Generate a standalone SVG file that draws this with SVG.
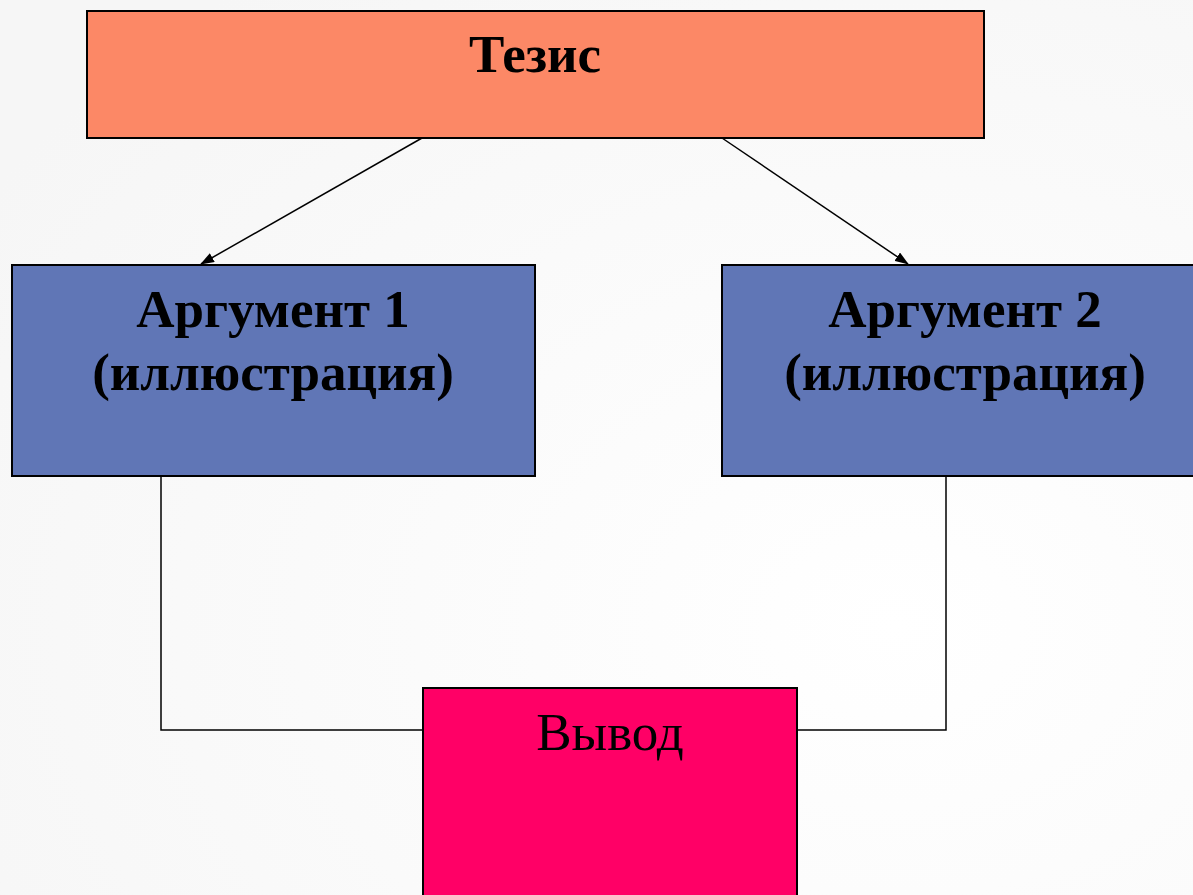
<svg xmlns="http://www.w3.org/2000/svg" width="1193" height="895" viewBox="0 0 1193 895">
<defs>
<radialGradient id="bg" cx="0.75" cy="0.7" r="0.9">
<stop offset="0" stop-color="#ffffff"/>
<stop offset="1" stop-color="#f6f6f6"/>
</radialGradient>
<marker id="ah" markerWidth="14" markerHeight="10" refX="13" refY="5" orient="auto" markerUnits="userSpaceOnUse">
<path d="M0,0 L14,5 L0,10 Z" fill="#000"/>
</marker>
</defs>
<style>
.box{stroke:#000;stroke-width:2}
.t{font-family:"Liberation Serif","Times New Roman",serif;font-size:53px;text-anchor:middle;fill:#000}
.b{font-weight:bold}
.c{stroke:#000;stroke-width:1.5;fill:none}
</style>
<rect width="1193" height="895" fill="url(#bg)"/>
<g id="connectors">
<line class="c" x1="422" y1="138" x2="201" y2="264" marker-end="url(#ah)"/>
<line class="c" x1="722" y1="138" x2="908" y2="264" marker-end="url(#ah)"/>
<polyline class="c" points="161,476 161,730 423,730"/>
<polyline class="c" points="946,476 946,730 797,730"/>
</g>
<g id="thesis">
<rect class="box" x="87" y="11" width="897" height="127" fill="#fc8866"/>
<text class="t b" x="535" y="72">Тезис</text>
</g>
<g id="arg1">
<rect class="box" x="12" y="265" width="523" height="211" fill="#6076b6"/>
<text class="t b" x="273" y="327">Аргумент 1</text>
<text class="t b" x="273" y="390">(иллюстрация)</text>
</g>
<g id="arg2">
<rect class="box" x="722" y="265" width="473" height="211" fill="#6076b6"/>
<text class="t b" x="965" y="327">Аргумент 2</text>
<text class="t b" x="965" y="390">(иллюстрация)</text>
</g>
<g id="conclusion">
<rect class="box" x="423" y="688" width="374" height="210" fill="#ff0066"/>
<text class="t" x="610" y="750">Вывод</text>
</g>
</svg>
